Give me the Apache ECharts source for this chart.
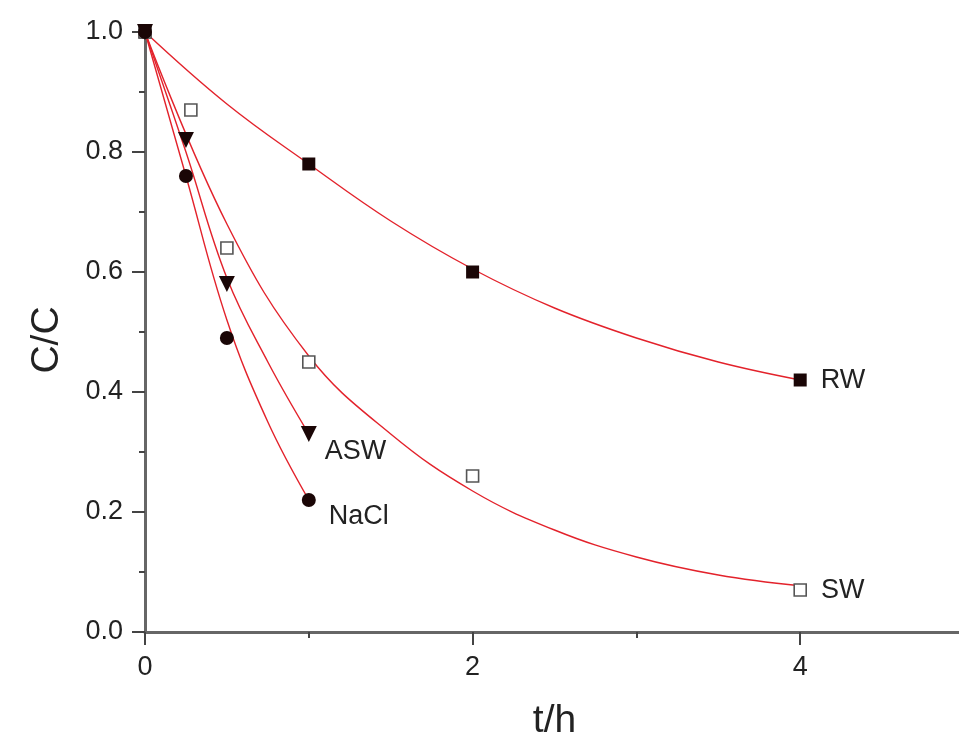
<!DOCTYPE html>
<html>
<head>
<meta charset="utf-8">
<script src="https://cdn.jsdelivr.net/npm/echarts@6/dist/echarts.min.js"></script>
<style>
  html, body { margin: 0; padding: 0; background: #fff; }
  #chart { width: 959px; height: 733px; }
</style>
</head>
<body>
<div id="chart"></div>
<script>
// measured points
const rwT = [0, 1, 2, 4];
const rwC = [1.0, 0.78, 0.60, 0.42];
const swT = [0, 0.28, 0.5, 1, 2, 4];
const swC = [1.0, 0.87, 0.64, 0.45, 0.26, 0.07];
const aswT = [0, 0.25, 0.5, 1];
const aswC = [1.0, 0.82, 0.58, 0.33];
const naclT = [0, 0.25, 0.5, 1];
const naclC = [1.0, 0.76, 0.49, 0.22];

// fitted curves
const rwFitT = [0, 0.5, 1, 1.5, 2, 2.5, 3, 3.5, 4];
const rwFitC = [1.0, 0.88, 0.78, 0.685, 0.605, 0.54, 0.49, 0.45, 0.42];
const swFitT = [0, 0.5, 1, 1.5, 2, 2.5, 3, 3.5, 4];
const swFitC = [1.0, 0.68, 0.46, 0.33, 0.235, 0.17, 0.125, 0.095, 0.077];
const aswFitT = [0, 0.25, 0.5, 0.75, 1];
const aswFitC = [1.0, 0.80, 0.59, 0.45, 0.33];
const naclFitT = [0, 0.25, 0.5, 0.75, 1];
const naclFitC = [1.0, 0.76, 0.52, 0.35, 0.22];

const xTicks = [0, 2, 4];
const yTicks = [0.0, 0.2, 0.4, 0.6, 0.8, 1.0];

const font = '"Liberation Sans", Arial, sans-serif';
const red = '#e3222b';
const ink = '#1a0606';

const zip = (xs, ys) => xs.map((x, i) => [x, ys[i]]);

function fitLine(name, xs, ys) {
  return {
    name: name + ' fit',
    type: 'line',
    data: zip(xs, ys),
    smooth: 0.4,
    showSymbol: false,
    clip: false,
    lineStyle: { color: red, width: 1.4 },
    silent: true,
    z: 2
  };
}

function points(name, xs, ys, marker, labelOpt) {
  const last = xs.length - 1;
  return {
    name: name,
    type: 'scatter',
    clip: false,
    z: 3,
    ...marker,
    data: xs.map((x, i) => {
      const item = { value: [x, ys[i]] };
      if (i === last) {
        item.label = Object.assign({
          show: true,
          formatter: name,
          position: 'right',
          color: '#222',
          fontFamily: font,
          fontSize: 27
        }, labelOpt);
      }
      return item;
    })
  };
}

const chart = echarts.init(document.getElementById('chart'));

chart.setOption({
  backgroundColor: '#ffffff',
  animation: false,
  grid: { left: 145, top: 32, bottom: 101, right: -5, outerBoundsMode: 'none', containLabel: false },
  xAxis: {
    type: 'value',
    min: 0,
    max: 5,
    interval: 2,
    name: 't/h',
    nameLocation: 'middle',
    nameGap: 70,
    nameTextStyle: { fontFamily: font, fontSize: 39, color: '#222' },
    axisLine: { onZero: false, lineStyle: { color: '#666', width: 3 } },
    axisTick: { inside: false, length: 13, lineStyle: { color: '#444', width: 2 } },
    minorTick: { show: true, splitNumber: 2, length: 6, lineStyle: { color: '#444', width: 2 } },
    splitLine: { show: false },
    axisLabel: {
      margin: 22,
      fontFamily: font,
      fontSize: 27,
      color: '#222',
      showMaxLabel: false,
      formatter: v => (xTicks.includes(v) ? String(v) : '')
    }
  },
  yAxis: {
    type: 'value',
    min: 0,
    max: 1,
    interval: 0.2,
    name: 'C/C',
    nameLocation: 'middle',
    nameGap: 78,
    nameTextStyle: { fontFamily: font, fontSize: 39, color: '#222', padding: [0, 16, 0, 0] },
    axisLine: { show: true, lineStyle: { color: '#666', width: 3 } },
    axisTick: { show: true, inside: false, length: 13, lineStyle: { color: '#444', width: 2 } },
    minorTick: { show: true, splitNumber: 2, length: 6, lineStyle: { color: '#444', width: 2 } },
    splitLine: { show: false },
    axisLabel: {
      margin: 22,
      fontFamily: font,
      fontSize: 27,
      color: '#222',
      formatter: v => {
        const t = yTicks.find(y => Math.abs(y - v) < 1e-6);
        return t === undefined ? '' : t.toFixed(1);
      }
    }
  },
  series: [
    fitLine('RW', rwFitT, rwFitC),
    fitLine('SW', swFitT, swFitC),
    fitLine('ASW', aswFitT, aswFitC),
    fitLine('NaCl', naclFitT, naclFitC),
    points('RW', rwT, rwC,
      { symbol: 'rect', symbolSize: 13, itemStyle: { color: ink, opacity: 1 } },
      { distance: 14, offset: [0, 1] }),
    points('SW', swT, swC,
      { symbol: 'rect', symbolSize: 12, itemStyle: { color: '#fff', borderColor: '#555', borderWidth: 1.6, opacity: 1 } },
      { distance: 14, offset: [0, 1] }),
    points('ASW', aswT, aswC,
      { symbol: 'triangle', symbolRotate: 180, symbolSize: 16, itemStyle: { color: ink, opacity: 1 } },
      { distance: 8, offset: [0, 18] }),
    points('NaCl', naclT, naclC,
      { symbol: 'circle', symbolSize: 14, itemStyle: { color: ink, opacity: 1 } },
      { distance: 13, offset: [0, 17] })
  ]
});
</script>
</body>
</html>
